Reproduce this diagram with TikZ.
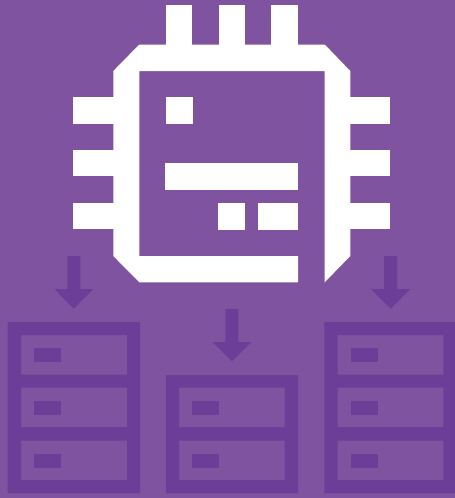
\documentclass[tikz,border=0pt]{standalone}
\definecolor{bgpurple}{RGB}{127,83,160}
\definecolor{darkpurple}{RGB}{108,62,152}
\tikzset{
  chip/.style={fill=white,draw=none},
  dim/.style={fill=darkpurple,draw=none},
  slotted/.style={fill=darkpurple,draw=none,even odd rule}
}
\begin{document}
\begin{tikzpicture}[x=1pt,y=-1pt]
\useasboundingbox (0,0) rectangle (455,498);
\fill[bgpurple] (0,0) rectangle (455,498);
% chip body
\fill[chip] (298,282.3) -- (139.3,282.3) -- (113.3,256) -- (113.3,71) -- (139.3,44.5) -- (324.7,44.5) -- (350.3,71) -- (350.3,256) -- (324.7,282.3) -- (324.7,71) -- (139.3,71) -- (139.3,256) -- (298,256) -- cycle;
% top pins
\fill[chip] (166,5) rectangle (192.3,45);
\fill[chip] (218.7,5) rectangle (245,45);
\fill[chip] (271.3,5) rectangle (298,45);
% left pins
\fill[chip] (73.3,97.3) rectangle (114,123.7);
\fill[chip] (73.3,150.3) rectangle (114,176.3);
\fill[chip] (73.3,203) rectangle (114,229.3);
% right pins
\fill[chip] (350,97.3) rectangle (390.3,123.7);
\fill[chip] (350,150.3) rectangle (390.3,176.3);
\fill[chip] (350,203) rectangle (390.3,229.3);
% die marks
\fill[chip] (166,97) rectangle (193,124);
\fill[chip] (165,163) rectangle (298,190);
\fill[chip] (218,203) rectangle (245,230);
\fill[chip] (258,203) rectangle (298,230);
% arrows
\fill[dim] (67.3,256) -- (80.3,256) -- (80.3,289) -- (93.3,289) -- (73.8,308.7) -- (54.3,289) -- (67.3,289) -- cycle;
\fill[dim] (225.3,309) -- (238.4,309) -- (238.4,342) -- (251.5,342) -- (231.9,361.3) -- (212.3,342) -- (225.3,342) -- cycle;
\fill[dim] (384,256) -- (397,256) -- (397,289) -- (410.3,289) -- (390.6,308.7) -- (371,289) -- (384,289) -- cycle;
% left server
\fill[slotted] (7.7,322) rectangle (140,493.3)
  (21,335) rectangle (127,374.7)
  (21,387.7) rectangle (127,427)
  (21,440.7) rectangle (127,480);
\fill[dim] (34,348) rectangle (61,362);
\fill[dim] (34,401) rectangle (61,415);
\fill[dim] (34,454) rectangle (61,468);
% middle server
\fill[slotted] (166,375) rectangle (298,493.3)
  (179,387.7) rectangle (284.7,427)
  (179,440.7) rectangle (284.7,480);
\fill[dim] (192,401) rectangle (219,415);
\fill[dim] (192,454) rectangle (219,468);
% right server
\fill[slotted] (324.3,322) rectangle (455,493.3)
  (337.7,335) rectangle (443.3,374.7)
  (337.7,387.7) rectangle (443.3,427)
  (337.7,440.7) rectangle (443.3,480);
\fill[dim] (351,348) rectangle (378,362);
\fill[dim] (351,401) rectangle (378,415);
\fill[dim] (351,454) rectangle (378,468);
\end{tikzpicture}
\end{document}
